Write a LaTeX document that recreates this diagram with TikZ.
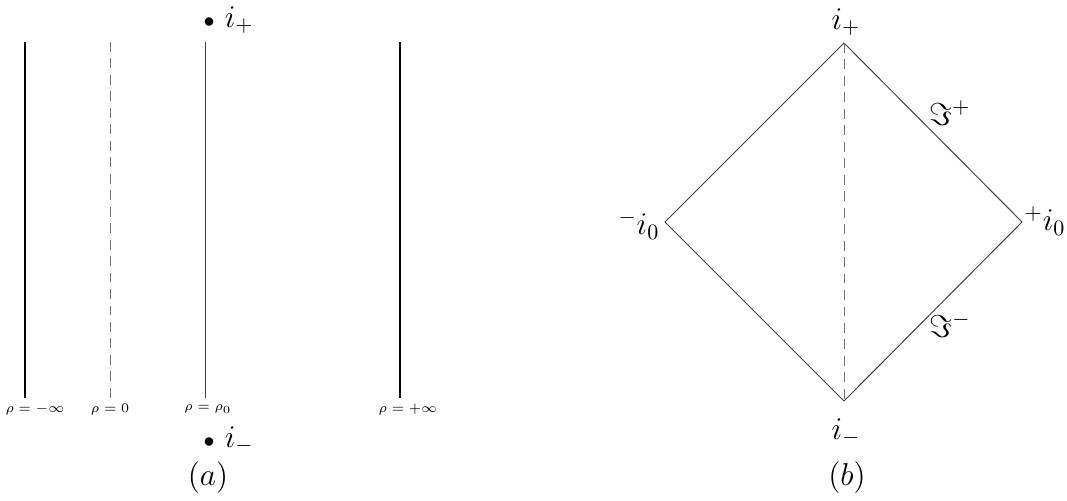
\documentclass[tikz,border=0pt]{standalone}
\usepackage{amsmath}
\usetikzlibrary{positioning,calc}

\begin{document}
\begin{tikzpicture}[x=0.016cm,y=-0.016cm,
  heavy/.style={line width=1.3pt,black},
  fine/.style={line width=0.45pt,black!75},
  dashline/.style={line width=0.45pt,black!55,dash pattern=on 4.5pt off 3pt},
  rholab/.style={font=\fontsize{6}{7}\selectfont,inner sep=1pt},
  pt/.style={inner sep=1pt,font=\Large},
  every node/.append style={font=\Large}]
  \useasboundingbox (0,0) rectangle (1067,500);
  % (a) the strip
  \coordinate (mt) at (25,42);   \coordinate (mb) at (25,398);
  \coordinate (zt) at (110,42);  \coordinate (zb) at (110,398);
  \coordinate (rt) at (205,42);  \coordinate (rb) at (205,398);
  \coordinate (pt1) at (400,42); \coordinate (pb) at (400,398);
  \draw[heavy] (mt)--(mb);
  \draw[dashline] (zt)--(zb);
  \draw[fine] (rt)--(rb);
  \draw[heavy] (pt1)--(pb);
  \node[rholab] (lm) at (35,410)  {$\rho=-\infty$};
  \node[rholab] (lz) at (110,410) {$\rho=0$};
  \node[rholab] (lr) at (208,409) {$\rho=\rho_0$};
  \node[rholab] (lp) at (408,410) {$\rho=+\infty$};
  \node[pt,anchor=west] (ipa) at (201,20)  {${\scriptstyle\bullet}\ i_+$};
  \node[pt,anchor=west] (ima) at (201,440) {${\scriptstyle\bullet}\ i_-$};
  \node (capa) at (208,478) {$(a)$};
  % (b) the diamond
  \coordinate (top) at (844,43);
  \coordinate (bot) at (844,401);
  \coordinate (lft) at (665,222);
  \coordinate (rgt) at (1022,222);
  \draw[fine] (top)--(rgt)--(bot)--(lft)--cycle;
  \draw[dashline] (top)--(bot);
  \node[pt] (ipb) at (846,22) {$i_+$};
  \node[pt] (imb) at (846,432) {$i_-$};
  \node[pt,anchor=east] (il) at ($(lft)+(-3,3)$) {$^-i_0$};
  \node[pt,anchor=west] (ir) at ($(rgt)+(0,-1)$) {$^+i_0$};
  \node (scrp) at (950,113) {$\Im^+$};
  \node (scrm) at (950,325) {$\Im^-$};
  \node (capb) at (847,478) {$(b)$};
\end{tikzpicture}
\end{document}
